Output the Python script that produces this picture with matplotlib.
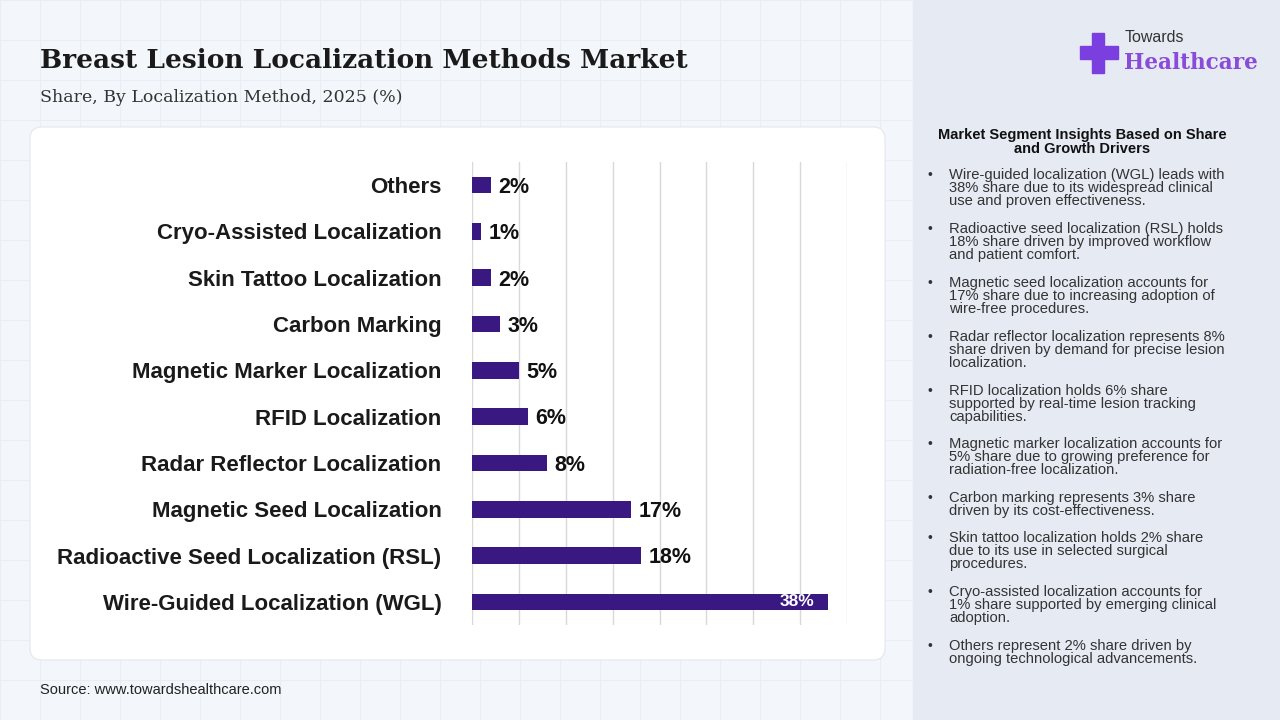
import matplotlib.pyplot as plt
from matplotlib.patches import FancyBboxPatch, Rectangle

plt.rcParams['font.family'] = ['Liberation Sans', 'DejaVu Sans']

methods = ["Wire-Guided Localization (WGL)", "Radioactive Seed Localization (RSL)",
           "Magnetic Seed Localization", "Radar Reflector Localization", "RFID Localization",
           "Magnetic Marker Localization", "Carbon Marking", "Skin Tattoo Localization",
           "Cryo-Assisted Localization", "Others"]
shares = [38, 18, 17, 8, 6, 5, 3, 2, 1, 2]

insights = [
    "Wire-guided localization (WGL) leads with\n38% share due to its widespread clinical\nuse and proven effectiveness.",
    "Radioactive seed localization (RSL) holds\n18% share driven by improved workflow\nand patient comfort.",
    "Magnetic seed localization accounts for\n17% share due to increasing adoption of\nwire-free procedures.",
    "Radar reflector localization represents 8%\nshare driven by demand for precise lesion\nlocalization.",
    "RFID localization holds 6% share\nsupported by real-time lesion tracking\ncapabilities.",
    "Magnetic marker localization accounts for\n5% share due to growing preference for\nradiation-free localization.",
    "Carbon marking represents 3% share\ndriven by its cost-effectiveness.",
    "Skin tattoo localization holds 2% share\ndue to its use in selected surgical\nprocedures.",
    "Cryo-assisted localization accounts for\n1% share supported by emerging clinical\nadoption.",
    "Others represent 2% share driven by\nongoing technological advancements.",
]
insight_y = [168, 222, 276, 330, 384, 437, 491, 531, 585, 639]

W, H = 1280, 720
fig = plt.figure(figsize=(12.8, 7.2), dpi=100)
fig.patch.set_facecolor("#f3f6fa")
bg = fig.add_axes([0, 0, 1, 1])
bg.set_xlim(0, W); bg.set_ylim(H, 0); bg.axis("off")

# faint background grid
for gx in range(0, 913, 40):
    bg.plot([gx, gx], [0, H], color="#e9edf4", lw=0.8, zorder=0)
for gy in range(0, H, 40):
    bg.plot([0, 913], [gy, gy], color="#e9edf4", lw=0.8, zorder=0)

bg.add_patch(Rectangle((913, 0), W - 913, H, color="#e5eaf3", zorder=1))
bg.add_patch(FancyBboxPatch((30, 127), 855, 533, boxstyle="round,pad=0,rounding_size=12",
                            fc="white", ec="#e3e7ee", lw=0.8, zorder=1))

bg.text(40, 60, "Breast Lesion Localization Methods Market", fontsize=19, fontweight="bold",
        family="DejaVu Serif", color="#1a1a1a", va="center", zorder=3)
bg.text(40, 98, "Share, By Localization Method, 2025 (%)", fontsize=12.5, family="DejaVu Serif",
        color="#333333", va="center", zorder=3)
bg.text(40, 690, "Source: www.towardshealthcare.com", fontsize=10.5, color="#222222", va="center", zorder=3)

# logo
bg.add_patch(Rectangle((1092, 33), 12, 40, color="#7b3fe0", zorder=3))
bg.add_patch(Rectangle((1080, 46), 38, 13, color="#7b3fe0", zorder=3))
bg.text(1125, 38, "Towards", fontsize=11.5, color="#333333", va="center", zorder=3)
bg.text(1124, 63, "Healthcare", fontsize=15.5, fontweight="bold", family="DejaVu Serif",
        color="#8a4bd8", va="center", zorder=3)

bg.text(1082, 142, "Market Segment Insights Based on Share\nand Growth Drivers", fontsize=10.5,
        fontweight="bold", ha="center", va="center", linespacing=1.0, color="#111111", zorder=3)
for t, yy in zip(insights, insight_y):
    bg.text(928, yy, "\u2022", fontsize=10, va="top", color="#333333", zorder=3)
    bg.text(949, yy, t, fontsize=10.6, va="top", linespacing=0.9, color="#333333", zorder=3)

ax = fig.add_axes([472 / W, 1 - 625 / H, 375 / W, 463 / H])
ax.set_facecolor("none")
ypos = list(range(len(methods)))
ax.barh(ypos, shares, height=0.36, color="#3a1882", zorder=2)
ax.set_xlim(0, 40)
ax.set_ylim(-0.5, len(methods) - 0.5)
ax.set_xticks(range(0, 41, 5))
ax.xaxis.grid(True, color="#d9d9d9", lw=1)
ax.tick_params(axis="x", length=0, labelbottom=False)
ax.tick_params(axis="y", length=0, pad=22)
ax.set_yticks(ypos)
ax.set_yticklabels(methods, fontsize=16, fontweight="bold", color="#1a1a1a")
for s in ax.spines.values():
    s.set_visible(False)
for y, v in zip(ypos, shares):
    if v >= 30:
        ax.text(v - 1.5, y, f"{v}%", ha="right", va="center", color="white", fontsize=12.5, fontweight="bold")
    else:
        ax.text(v + 0.8, y - 0.05, f"{v}%", ha="left", va="center", color="#111111", fontsize=15.5, fontweight="bold")

fig.savefig("out.png", dpi=100, facecolor=fig.get_facecolor())
